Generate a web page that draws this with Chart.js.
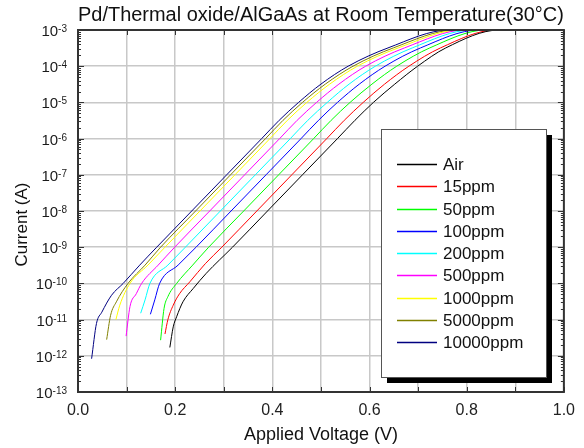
<!DOCTYPE html>
<html lang="en">
<head>
<meta charset="UTF-8" />
<title>Pd/Thermal oxide/AlGaAs at Room Temperature</title>
<script src="https://cdn.jsdelivr.net/npm/chart.js"></script>
<style>
  html, body { margin: 0; padding: 0; background: #fff; }
  canvas { display: block; }
</style>
</head>
<body>
<canvas id="ivChart" width="584" height="448"></canvas>
<script>
  const FONT = '"Liberation Sans", Arial, sans-serif';

  // legend order
  const labels = ['Air', '15ppm', '50ppm', '100ppm', '200ppm', '500ppm', '1000ppm', '5000ppm', '10000ppm'];
  const colors = ['#000000', '#ff0000', '#00ff00', '#0000ff', '#00ffff', '#ff00ff', '#ffff00', '#808000', '#000080'];

  // applied voltage (V) / current (A)
  const vAir = [0.189, 0.196, 0.203, 0.216, 0.237, 0.264, 0.318, 0.39, 0.462, 0.534, 0.570, 0.608, 0.652, 0.699, 0.757, 0.867, 1.0];
  const iAir = [1.7e-12, 6.3e-12, 1.2e-11, 3.1e-11, 7.2e-11, 1.9e-10, 1e-9, 1e-8, 1e-7, 1e-6, 3.2e-6, 1e-5, 3.2e-5, 1e-4, 3.2e-4, 1e-3, 1e-3];

  const v15 = [0.179, 0.185, 0.196, 0.209, 0.23, 0.262, 0.296, 0.368, 0.44, 0.512, 0.548, 0.587, 0.631, 0.681, 0.746, 0.86, 1.0];
  const i15 = [4e-12, 1e-11, 2.5e-11, 5.2e-11, 1.1e-10, 3.5e-10, 1e-9, 1e-8, 1e-7, 1e-6, 3.2e-6, 1e-5, 3.2e-5, 1e-4, 3.2e-4, 1e-3, 1e-3];

  const v50 = [0.17, 0.177, 0.185, 0.203, 0.236, 0.269, 0.341, 0.413, 0.485, 0.521, 0.56, 0.605, 0.656, 0.724, 0.84, 1.0];
  const i50 = [2.7e-12, 2e-11, 4.3e-11, 1e-10, 3.2e-10, 1e-9, 1e-8, 1e-7, 1e-6, 3.2e-6, 1e-5, 3.2e-5, 1e-4, 3.2e-4, 1e-3, 1e-3];

  const v100 = [0.149, 0.158, 0.168, 0.206, 0.243, 0.315, 0.387, 0.459, 0.495, 0.534, 0.579, 0.632, 0.705, 0.825, 1.0];
  const i100 = [1.4e-11, 3.5e-11, 1e-10, 3.2e-10, 1e-9, 1e-8, 1e-7, 1e-6, 3.2e-6, 1e-5, 3.2e-5, 1e-4, 3.2e-4, 1e-3, 1e-3];

  const v200 = [0.129, 0.138, 0.148, 0.185, 0.221, 0.293, 0.365, 0.437, 0.473, 0.513, 0.558, 0.612, 0.688, 0.81, 1.0];
  const i200 = [1.5e-11, 3.5e-11, 1e-10, 3.2e-10, 1e-9, 1e-8, 1e-7, 1e-6, 3.2e-6, 1e-5, 3.2e-5, 1e-4, 3.2e-4, 1e-3, 1e-3];

  const v500 = [0.099, 0.107, 0.12, 0.131, 0.165, 0.199, 0.271, 0.343, 0.415, 0.451, 0.491, 0.537, 0.592, 0.672, 0.797, 1.0];
  const i500 = [3.5e-12, 2.3e-11, 5.2e-11, 1e-10, 3.2e-10, 1e-9, 1e-8, 1e-7, 1e-6, 3.2e-6, 1e-5, 3.2e-5, 1e-4, 3.2e-4, 1e-3, 1e-3];

  const v1000 = [0.078, 0.086, 0.107, 0.144, 0.179, 0.251, 0.323, 0.395, 0.431, 0.471, 0.518, 0.575, 0.659, 0.787, 1.0];
  const i1000 = [1e-11, 2.5e-11, 1e-10, 3.2e-10, 1e-9, 1e-8, 1e-7, 1e-6, 3.2e-6, 1e-5, 3.2e-5, 1e-4, 3.2e-4, 1e-3, 1e-3];

  const v5000 = [0.059, 0.067, 0.079, 0.103, 0.138, 0.170, 0.242, 0.314, 0.386, 0.422, 0.462, 0.509, 0.566, 0.649, 0.777, 1.0];
  const i5000 = [2.8e-12, 1.3e-11, 3.1e-11, 1e-10, 3.2e-10, 1e-9, 1e-8, 1e-7, 1e-6, 3.2e-6, 1e-5, 3.2e-5, 1e-4, 3.2e-4, 1e-3, 1e-3];

  const v10000 = [0.028, 0.038, 0.049, 0.069, 0.093, 0.127, 0.162, 0.234, 0.306, 0.378, 0.414, 0.454, 0.500, 0.556, 0.638, 0.764, 1.0];
  const i10000 = [8.3e-13, 7.8e-12, 1.6e-11, 4.7e-11, 1e-10, 3.2e-10, 1e-9, 1e-8, 1e-7, 1e-6, 3.2e-6, 1e-5, 3.2e-5, 1e-4, 3.2e-4, 1e-3, 1e-3];

  const voltages = [vAir, v15, v50, v100, v200, v500, v1000, v5000, v10000];
  const currents = [iAir, i15, i50, i100, i200, i500, i1000, i5000, i10000];

  // decade ticks on the current axis (label exponents)
  const yTicks = [1e-13, 1e-12, 1e-11, 1e-10, 1e-9, 1e-8, 1e-7, 1e-6, 1e-5, 1e-4, 1e-3];
  const yExponents = ['-13', '-12', '-11', '-10', '-9', '-8', '-7', '-6', '-5', '-4', '-3'];

  const datasets = labels.map((label, k) => ({
    label: label,
    data: voltages[k].map((v, j) => ({ x: v, y: currents[k][j] })),
    borderColor: colors[k],
    backgroundColor: colors[k],
    borderWidth: 1,
    pointRadius: 0,
    cubicInterpolationMode: 'monotone',
    fill: false
  }));

  // frame with inward tick marks, power-of-ten labels and the rotated y title
  const frame = {
    id: 'frame',
    afterDatasetsDraw(chart) {
      const { ctx, chartArea: a, scales: { x, y } } = chart;
      ctx.save();
      ctx.strokeStyle = '#333';
      ctx.lineWidth = 1;
      ctx.beginPath();
      x.ticks.forEach(t => {
        const px = Math.round(x.getPixelForValue(t.value)) + 0.5;
        ctx.moveTo(px, a.bottom); ctx.lineTo(px, a.bottom - 5);
        ctx.moveTo(px, a.top); ctx.lineTo(px, a.top + 5);
      });
      for (let e = -13; e < -3; e++) {
        for (let m = 1; m < 10; m++) {
          const py = Math.round(y.getPixelForValue(m * Math.pow(10, e))) + 0.5;
          const len = m === 1 ? 6 : 3;
          ctx.moveTo(a.left, py); ctx.lineTo(a.left + len, py);
          ctx.moveTo(a.right, py); ctx.lineTo(a.right - len, py);
        }
      }
      ctx.stroke();
      ctx.lineWidth = 2;
      ctx.strokeRect(a.left, a.top, a.right - a.left, a.bottom - a.top);

      // 10^n labels
      ctx.fillStyle = '#1a1a1a';
      ctx.textBaseline = 'alphabetic';
      ctx.textAlign = 'right';
      yTicks.forEach((v, i) => {
        const py = y.getPixelForValue(v);
        const right = a.left - 11;
        ctx.font = '10px ' + FONT;
        const ew = ctx.measureText(yExponents[i]).width;
        ctx.fillText(yExponents[i], right, py + 2);
        ctx.font = '15px ' + FONT;
        ctx.fillText('10', right - ew, py + 6);
      });

      // y axis title
      ctx.save();
      ctx.translate(22.5, 224.5);
      ctx.rotate(-Math.PI / 2);
      ctx.textAlign = 'center';
      ctx.textBaseline = 'middle';
      ctx.font = '17px ' + FONT;
      ctx.fillStyle = '#111';
      ctx.fillText('Current (A)', 0, 0);
      ctx.restore();
      ctx.restore();
    }
  };

  // boxed legend with drop shadow, inside the plot
  const boxLegend = {
    id: 'boxLegend',
    afterDraw(chart) {
      const { ctx } = chart;
      const left = 381, top = 129, w = 165, h = 248;
      ctx.save();
      ctx.fillStyle = '#000';
      ctx.fillRect(left + 6, top + 6, w, h);
      ctx.fillStyle = '#fff';
      ctx.fillRect(left, top, w, h);
      ctx.strokeStyle = '#555';
      ctx.lineWidth = 1;
      ctx.strokeRect(left + 0.5, top + 0.5, w, h);
      ctx.font = '17px ' + FONT;
      ctx.textBaseline = 'middle';
      chart.data.datasets.forEach((ds, i) => {
        const yy = Math.round(top + 35 + i * 22.25) + 0.5;
        ctx.strokeStyle = ds.borderColor;
        ctx.lineWidth = 1.5;
        ctx.beginPath();
        ctx.moveTo(left + 16, yy);
        ctx.lineTo(left + 56, yy);
        ctx.stroke();
        ctx.fillStyle = '#111';
        ctx.fillText(ds.label, left + 62, yy + 1);
      });
      ctx.restore();
    }
  };

  new Chart(document.getElementById('ivChart'), {
    type: 'line',
    data: { datasets: datasets },
    plugins: [frame, boxLegend],
    options: {
      responsive: false,
      animation: false,
      layout: { padding: { left: 0, right: 19, top: 0, bottom: 0 } },
      plugins: {
        legend: { display: false },
        tooltip: { enabled: false },
        title: {
          display: true,
          fullSize: false,
          text: 'Pd/Thermal oxide/AlGaAs at Room Temperature(30\u00B0C)',
          color: '#111',
          font: { family: FONT, size: 20, weight: 'normal', lineHeight: 1.2 },
          padding: { top: 3.5, bottom: 2.5 }
        }
      },
      scales: {
        x: {
          type: 'linear',
          min: 0,
          max: 1,
          afterFit: s => { s.height = 56; },
          border: { display: false },
          grid: { color: '#c8c8c8', lineWidth: 1.5, drawTicks: false },
          ticks: {
            stepSize: 0.1,
            padding: 9,
            color: '#222',
            font: { family: FONT, size: 16 },
            maxRotation: 0,
            autoSkip: false,
            callback: v => (Math.round(v * 10) % 2 === 0 ? v.toFixed(1) : '')
          },
          title: {
            display: true,
            text: 'Applied Voltage (V)',
            color: '#111',
            font: { family: FONT, size: 18 },
            padding: { top: 0, bottom: 2 }
          }
        },
        y: {
          type: 'logarithmic',
          min: 1e-13,
          max: 1e-3,
          afterFit: s => { s.width = 78; },
          afterBuildTicks: s => { s.ticks = yTicks.map(v => ({ value: v })); },
          border: { display: false },
          grid: { color: '#c8c8c8', lineWidth: 1.5, drawTicks: false },
          ticks: { display: false }
        }
      }
    }
  });
</script>
</body>
</html>
